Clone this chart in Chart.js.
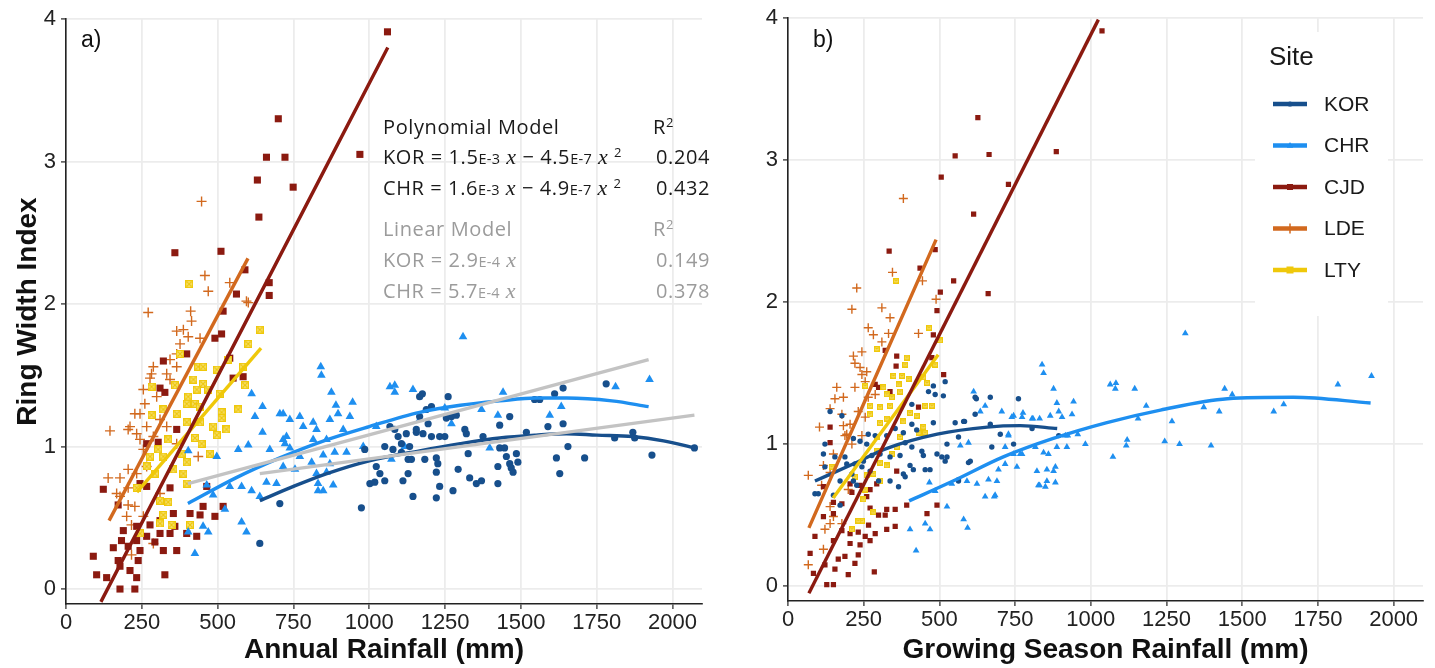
<!DOCTYPE html>
<html>
<head>
<meta charset="utf-8">
<script src="https://cdn.jsdelivr.net/npm/chart.js@4.4.1/dist/chart.umd.min.js"></script>
<style>
  body { margin: 0; background: #fff; width: 1435px; height: 668px; overflow: hidden; position: relative; font-family: "Liberation Sans", Arial, sans-serif; }
  .pane { position: absolute; top: 0; height: 668px; }
  #paneA { left: 0; width: 717px; }
  #paneB { left: 717px; width: 718px; }
  .tag { position: absolute; font-size: 23px; line-height: 26px; color: #111; }
  .note { position: absolute; font-family: "Open Sans", sans-serif; font-size: 20px; line-height: 24px; letter-spacing: 0.6px; white-space: nowrap; color: #1a1a1a; }
  .note.lin { color: #9b9b9b; }
  .note .e { font-size: 14.5px; letter-spacing: 0.3px; }
  .note i { font-family: "Liberation Serif", serif; font-size: 22px; }
  .note sup { font-size: 13px; vertical-align: 7px; line-height: 0; }
</style>
</head>
<body>
<div class="pane" id="paneA"><canvas id="chartA" width="717" height="668"></canvas></div>
<div class="pane" id="paneB"><canvas id="chartB" width="718" height="668"></canvas></div>

<div class="tag" style="left:81px;top:26px">a)</div>
<div class="tag" style="left:813px;top:26px">b)</div>

<div class="note" style="left:383px;top:115px">Polynomial Model</div>
<div class="note" style="left:653px;top:115px">R<sup>2</sup></div>
<div class="note" style="left:383px;top:145px">KOR = 1.5<span class="e">E-3</span> <i>x</i> − 4.5<span class="e">E-7</span> <i>x</i> <sup>2</sup></div>
<div class="note" style="left:656px;top:145px">0.204</div>
<div class="note" style="left:383px;top:176px">CHR = 1.6<span class="e">E-3</span> <i>x</i> − 4.9<span class="e">E-7</span> <i>x</i> <sup>2</sup></div>
<div class="note" style="left:656px;top:176px">0.432</div>
<div class="note lin" style="left:383px;top:217px">Linear Model</div>
<div class="note lin" style="left:653px;top:217px">R<sup>2</sup></div>
<div class="note lin" style="left:383px;top:248px">KOR = 2.9<span class="e">E-4</span> <i>x</i></div>
<div class="note lin" style="left:656px;top:248px">0.149</div>
<div class="note lin" style="left:383px;top:279px">CHR = 5.7<span class="e">E-4</span> <i>x</i></div>
<div class="note lin" style="left:656px;top:279px">0.378</div>

<script>
// sites and colours
const SITES = ["KOR", "CHR", "CJD", "LDE", "LTY"];
const COLS = { KOR: "#174f8c", CHR: "#1e8ff0", CJD: "#8b1a10", LDE: "#d2691e", LTY: "#efc80a" };
const GREY = "#c3c3c3";

// tick labels
const xTicks = [0, 250, 500, 750, 1000, 1250, 1500, 1750, 2000];
const yTicks = [0, 1, 2, 3, 4];

// a) annual rainfall (mm) vs ring width index
const korA = [[705,0.60],[639,0.32],[974,0.57],[985,0.98],[1023,0.86],[1035,0.81],[1002,0.74],[1018,0.75],[1051,0.76],[1051,1.00],[1068,1.14],[1078,0.98],[1095,1.07],[1106,1.02],[1122,1.09],[1106,0.96],[1133,1.00],[1155,1.10],[1166,1.35],[1175,1.37],[1188,1.26],[1205,1.28],[1194,1.16],[1177,1.09],[1205,1.07],[1232,1.07],[1249,1.07],[1260,1.35],[1254,1.20],[1271,1.21],[1287,1.22],[1315,1.12],[1320,1.09],[1326,0.95],[1128,0.91],[1139,0.91],[1183,0.91],[1221,0.92],[1226,0.88],[1128,0.81],[1111,0.76],[1221,0.82],[1232,0.72],[1221,0.64],[1276,0.69],[1144,0.65],[1293,0.84],[1331,0.78],[1353,0.74],[1370,0.76],[1375,1.07],[1424,0.74],[1424,0.86],[1430,0.99],[1446,0.99],[1452,0.93],[1463,0.88],[1468,0.85],[1474,0.82],[1485,0.95],[1490,0.89],[1430,1.15],[1463,1.21],[1518,1.10],[1545,1.33],[1562,1.33],[1589,1.14],[1617,0.92],[1628,0.81],[1639,1.41],[1611,1.37],[1639,1.16],[1655,1.00],[1166,1.21],[1084,1.12],[1155,1.12],[1781,1.44],[1710,0.92],[1809,1.06],[1869,1.10],[1875,1.06],[1932,0.94],[2072,0.99]];
const chrA = [[612,1.37],[648,1.28],[623,1.21],[705,1.23],[648,1.10],[568,0.98],[601,1.01],[672,0.98],[403,0.97],[497,0.93],[464,0.73],[485,0.66],[540,0.72],[579,0.72],[612,0.69],[661,0.75],[694,0.74],[524,0.56],[579,0.47],[595,0.40],[452,0.44],[469,0.40],[403,0.40],[425,0.25],[639,0.65],[716,1.05],[840,1.56],[842,1.50],[875,1.38],[945,1.31],[890,1.29],[936,1.21],[897,1.23],[870,1.19],[914,1.12],[815,1.17],[771,1.21],[738,1.19],[716,1.23],[782,1.14],[826,1.12],[727,1.07],[722,1.02],[815,1.05],[859,1.05],[738,0.99],[771,0.93],[848,0.94],[886,0.96],[925,0.96],[810,0.89],[870,0.88],[716,0.86],[755,0.84],[826,0.81],[859,0.82],[831,0.74],[881,0.73],[848,0.69],[831,0.69],[980,1.00],[1068,1.42],[1084,1.43],[1084,1.38],[1144,1.40],[1309,1.77],[1441,1.38],[1370,1.26],[1424,1.22],[1249,1.27],[1271,1.16],[1073,0.91],[1117,1.00],[1397,0.99],[1595,1.22],[1633,1.28],[1023,1.14],[1166,1.19],[1812,1.42],[1924,1.47]];
const cjdA = [[359,2.36],[511,2.37],[670,2.15],[670,2.06],[562,2.07],[590,2.24],[518,1.95],[513,1.79],[491,1.76],[398,1.65],[321,1.60],[540,1.62],[584,1.49],[551,1.48],[310,1.41],[326,1.38],[365,1.12],[304,1.03],[266,1.02],[123,0.70],[172,0.59],[244,0.74],[266,0.72],[343,0.71],[464,0.72],[452,0.58],[409,0.53],[442,0.52],[491,0.51],[518,0.58],[354,0.53],[310,0.48],[277,0.45],[233,0.44],[189,0.41],[156,0.29],[183,0.34],[205,0.30],[244,0.27],[310,0.39],[321,0.27],[365,0.27],[343,0.39],[398,0.39],[431,0.37],[90,0.23],[101,0.10],[134,0.08],[178,0.00],[227,0.00],[326,0.10],[233,0.08],[178,0.16],[211,0.13],[238,0.20],[172,0.20],[266,0.37],[293,0.33],[359,0.44],[233,0.34],[700,3.30],[661,3.03],[722,3.03],[631,2.87],[749,2.82],[636,2.61],[969,3.05],[1060,3.91]];
const ldeA = [[447,2.72],[458,2.20],[469,2.09],[540,2.15],[601,2.01],[271,1.94],[411,1.95],[414,1.88],[595,2.02],[365,1.81],[387,1.82],[403,1.77],[442,1.76],[376,1.72],[365,1.65],[343,1.61],[365,1.56],[288,1.56],[282,1.51],[332,1.51],[343,1.47],[277,1.48],[255,1.40],[299,1.35],[260,1.30],[227,1.23],[244,1.23],[211,1.14],[266,1.14],[145,1.11],[205,1.12],[244,1.05],[288,1.07],[255,0.98],[332,1.14],[365,1.02],[436,0.93],[205,0.84],[139,0.78],[178,0.78],[233,0.81],[205,0.71],[178,0.65],[205,0.59],[227,0.58],[255,0.51],[200,0.51],[216,0.45],[288,0.32],[310,0.67],[266,0.86],[216,0.24],[167,0.67],[233,1.09],[310,1.19]];
const ltyA = [[406,2.14],[639,1.82],[601,1.72],[376,1.65],[436,1.56],[452,1.56],[535,1.61],[497,1.54],[584,1.56],[590,1.43],[420,1.47],[452,1.44],[469,1.40],[431,1.40],[507,1.37],[282,1.42],[359,1.43],[403,1.35],[398,1.30],[425,1.30],[442,1.28],[513,1.24],[568,1.26],[513,1.20],[282,1.22],[321,1.26],[365,1.23],[398,1.17],[442,1.17],[485,1.14],[529,1.12],[497,1.08],[425,1.06],[447,1.02],[337,1.05],[304,0.98],[277,0.93],[321,0.93],[381,0.95],[474,0.95],[398,0.89],[266,0.86],[293,0.81],[354,0.84],[387,0.81],[398,0.74],[233,0.71],[310,0.62],[337,0.61],[321,0.52],[310,0.46],[348,0.45],[409,0.45],[244,0.39]];

// a) fitted lines
const korFitA = [[639,0.62],[750,0.72],[860,0.81],[1000,0.90],[1166,0.97],[1300,1.02],[1430,1.06],[1550,1.08],[1650,1.09],[1750,1.08],[1868,1.07],[1970,1.04],[2072,0.99]];
const chrFitA = [[402,0.60],[560,0.78],[705,0.92],[850,1.04],[1000,1.14],[1166,1.24],[1300,1.29],[1430,1.32],[1550,1.34],[1651,1.34],[1800,1.32],[1921,1.28]];
const korLinA = [[639,0.81],[2072,1.22]];
const chrLinA = [[402,0.74],[1921,1.61]];
const cjdFitA = [[115,-0.09],[1061,3.80]];
const ldeFitA = [[142,0.48],[600,2.32]];
const ltyFitA = [[234,0.68],[643,1.69]];

// b) growing season rainfall (mm) vs ring width index
const korB = [[519,1.44],[480,1.41],[513,1.34],[486,1.35],[464,1.37],[139,1.23],[178,1.20],[409,1.28],[480,1.15],[409,1.14],[552,1.15],[580,1.16],[618,1.21],[668,1.33],[618,1.33],[425,1.10],[381,1.08],[354,1.11],[326,1.06],[288,1.06],[265,1.07],[238,1.02],[216,1.04],[122,1.00],[117,0.93],[155,0.91],[188,0.91],[194,0.86],[221,0.86],[249,0.88],[277,0.92],[304,0.93],[337,0.91],[370,0.92],[387,1.01],[409,0.98],[442,0.95],[447,0.92],[492,0.93],[508,0.91],[519,0.88],[525,1.00],[453,0.82],[469,0.82],[414,0.82],[403,0.85],[381,0.79],[387,0.77],[365,0.70],[337,0.74],[299,0.74],[271,0.81],[244,0.84],[211,0.79],[172,0.74],[216,0.74],[227,0.71],[122,0.84],[89,0.65],[100,0.65],[150,0.64],[172,0.57],[602,0.88],[563,0.75],[668,1.14],[260,1.00],[563,1.05],[596,0.87],[563,0.74],[761,1.32],[622,1.32],[583,1.16],[701,1.07],[673,0.98],[745,1.00],[806,1.11],[525,0.91],[894,1.06]];
const chrB = [[403,0.40],[423,0.25],[453,0.44],[469,0.40],[580,0.47],[593,0.41],[525,0.56],[467,0.73],[486,0.67],[541,0.72],[591,0.74],[613,1.37],[569,0.99],[596,1.01],[651,1.27],[635,1.23],[624,0.72],[662,0.75],[690,0.74],[684,0.64],[651,0.63],[706,1.23],[728,1.07],[745,1.20],[773,1.19],[806,1.18],[717,0.98],[745,0.93],[773,0.93],[822,0.81],[839,1.56],[844,1.50],[827,0.71],[850,0.70],[855,0.82],[877,0.81],[883,0.73],[756,0.84],[877,1.39],[894,1.23],[943,1.30],[817,0.98],[888,0.98],[860,0.93],[916,1.06],[888,1.29],[938,1.21],[905,1.19],[866,1.20],[957,1.07],[982,1.00],[921,0.98],[924,1.06],[883,0.84],[855,0.74],[831,0.71],[767,0.93],[717,0.86],[695,0.82],[681,0.63],[739,1.19],[776,1.22],[809,1.18],[831,1.18],[844,0.94],[728,1.06],[1064,1.42],[1083,1.43],[1081,1.39],[1145,1.39],[1312,1.78],[1183,1.27],[1156,1.18],[1120,1.03],[1117,0.99],[1073,0.91],[1244,1.02],[1268,1.16],[1293,1.00],[1373,1.26],[1397,0.99],[1424,1.23],[1442,1.39],[1467,1.35],[1604,1.23],[1637,1.28],[1816,1.42],[1927,1.48]];
const cjdB = [[627,3.30],[552,3.03],[664,3.04],[506,2.88],[728,2.83],[613,2.62],[886,3.06],[334,2.36],[486,2.37],[436,2.24],[547,2.15],[503,2.07],[661,2.06],[492,1.94],[1037,3.91],[480,1.77],[359,1.62],[357,1.55],[321,1.66],[514,1.49],[475,1.61],[431,1.26],[139,1.12],[299,1.40],[392,0.57],[492,0.57],[459,0.51],[354,0.54],[326,0.54],[321,0.50],[271,0.55],[299,0.50],[354,0.42],[326,0.40],[266,0.43],[288,0.37],[255,0.35],[271,0.32],[232,0.38],[238,0.29],[205,0.37],[232,0.22],[205,0.30],[188,0.21],[221,0.16],[166,0.19],[155,0.12],[122,0.15],[128,0.01],[150,0.01],[199,0.08],[285,0.10],[73,0.23],[84,0.09],[89,0.35],[117,0.49],[150,0.32],[178,0.39],[150,0.51],[178,0.58],[117,0.70],[238,0.71],[271,0.68],[293,0.72],[260,0.63],[205,0.72],[211,0.66],[150,0.59],[139,1.01],[359,0.81],[288,1.42],[337,1.37]];
const ldeB = [[381,2.73],[345,2.21],[227,2.10],[444,2.15],[489,2.02],[211,1.95],[310,1.96],[337,1.89],[265,1.82],[282,1.77],[332,1.78],[431,1.78],[310,1.72],[244,1.65],[216,1.62],[221,1.57],[238,1.54],[260,1.51],[244,1.49],[161,1.40],[183,1.33],[221,1.40],[255,1.44],[288,1.35],[155,1.32],[139,1.25],[178,1.21],[232,1.23],[255,1.19],[183,1.13],[205,1.14],[104,1.12],[188,1.06],[211,1.00],[244,1.06],[150,0.93],[117,0.85],[139,0.80],[67,0.78],[111,0.71],[139,0.56],[150,0.49],[139,0.44],[178,0.44],[122,0.40],[199,0.68],[117,0.26],[67,0.15],[194,1.07],[265,1.33]];
const ltyB = [[357,2.15],[466,1.82],[502,1.73],[293,1.67],[392,1.61],[387,1.56],[486,1.56],[348,1.48],[376,1.48],[398,1.46],[365,1.42],[447,1.47],[459,1.43],[315,1.40],[255,1.41],[326,1.35],[343,1.33],[271,1.27],[304,1.26],[337,1.27],[453,1.27],[475,1.27],[403,1.22],[425,1.20],[271,1.21],[304,1.15],[326,1.18],[447,1.12],[453,1.08],[431,1.08],[370,1.05],[293,1.05],[359,0.98],[343,0.93],[326,0.85],[304,0.87],[282,0.79],[304,0.74],[255,0.68],[249,0.61],[282,0.52],[244,0.46],[232,0.46],[211,0.40],[260,0.78],[293,0.95],[381,1.16],[221,0.77],[144,0.84],[370,1.37]];

// b) fitted lines
const korFitB = [[89,0.74],[215,0.86],[327,0.97],[493,1.07],[658,1.12],[767,1.13],[889,1.11]];
const chrFitB = [[400,0.60],[545,0.74],[711,0.91],[876,1.04],[1050,1.15],[1230,1.24],[1451,1.32],[1669,1.33],[1924,1.29]];
const cjdFitB = [[69,-0.05],[1025,3.99]];
const ldeFitB = [[69,0.41],[489,2.44]];
const ltyFitB = [[149,0.62],[496,1.63]];

const xy = arr => arr.map(([x, y]) => ({ x, y }));

// yellow square with a cross in it
function boxCross(s) {
  const c = document.createElement("canvas");
  c.width = c.height = s;
  const g = c.getContext("2d");
  g.fillStyle = "#f8e68c";
  g.fillRect(0, 0, s, s);
  g.strokeStyle = COLS.LTY;
  g.lineWidth = 1.3;
  g.strokeRect(0.65, 0.65, s - 1.3, s - 1.3);
  g.beginPath();
  g.moveTo(1.5, 1.5); g.lineTo(s - 1.5, s - 1.5);
  g.moveTo(s - 1.5, 1.5); g.lineTo(1.5, s - 1.5);
  g.stroke();
  return c;
}

function pointSet(site, data, big) {
  const c = COLS[site];
  const d = { label: site, data: xy(data), backgroundColor: c, borderColor: c, borderWidth: 0, order: 2 };
  if (site === "KOR") return { ...d, pointStyle: "circle", pointRadius: big ? 3.6 : 2.7, order: 1 };
  if (site === "CHR") return { ...d, pointStyle: "triangle", pointRadius: big ? 5 : 3.9, order: 2 };
  if (site === "CJD") return { ...d, pointStyle: "rect", pointRadius: big ? 5 : 3.7, order: 4 };
  if (site === "LDE") return { ...d, pointStyle: "cross", pointRadius: big ? 5 : 4.5, borderWidth: 1.4, order: 5 };
  return { ...d, pointStyle: boxCross(big ? 8 : 6), order: 3 };
}

function lineSet(data, color) {
  return {
    data: xy(data), showLine: true, borderColor: color, borderWidth: 3.4,
    pointRadius: 0, tension: 0.4, cubicInterpolationMode: "monotone", fill: false, order: 0
  };
}

const tickFont = { family: "Liberation Sans", size: 22 };
const titleFont = { family: "Liberation Sans", size: 28, weight: "bold" };

function makeScales(yWidth, xHeight, xTitle, yTitle) {
  return {
    x: {
      type: "linear", min: 0, max: 2097,
      afterBuildTicks: s => { s.ticks = xTicks.map(v => ({ value: v })); },
      afterFit: s => { s.height = xHeight; },
      grid: { color: "#ececec", lineWidth: 1.8, tickColor: "#333", tickLength: 5, tickWidth: 1.3 },
      border: { color: "#222", width: 1.6 },
      ticks: { color: "#222", font: tickFont, padding: 1, maxRotation: 0, autoSkip: false, callback: v => String(v) },
      title: { display: true, text: xTitle, color: "#111", font: titleFont, padding: { top: 0, bottom: 1 } }
    },
    y: {
      type: "linear", min: -0.105, max: 4,
      afterBuildTicks: s => { s.ticks = yTicks.map(v => ({ value: v })); },
      afterFit: s => { s.width = yWidth; },
      grid: { color: "#ececec", lineWidth: 1.8, tickColor: "#333", tickLength: 5, tickWidth: 1.3 },
      border: { color: "#222", width: 1.6 },
      ticks: { color: "#222", font: tickFont, padding: 5, callback: v => String(v) },
      title: { display: !!yTitle, text: yTitle, color: "#111", font: titleFont, padding: { top: 11, bottom: 0 } }
    }
  };
}

// legend for panel b, drawn inside the plot
function drawMark(g, site, x, y) {
  g.fillStyle = COLS[site];
  g.strokeStyle = COLS[site];
  g.beginPath();
  if (site === "KOR") { g.arc(x, y, 2.6, 0, Math.PI * 2); g.fill(); }
  else if (site === "CHR") { g.moveTo(x, y - 3.5); g.lineTo(x + 3.2, y + 2.2); g.lineTo(x - 3.2, y + 2.2); g.closePath(); g.fill(); }
  else if (site === "CJD") { g.fillRect(x - 3, y - 3, 6, 6); }
  else if (site === "LDE") { g.lineWidth = 1.5; g.moveTo(x, y - 5); g.lineTo(x, y + 5); g.stroke(); }
  else { g.fillRect(x - 3.5, y - 3.5, 7, 7); }
}

const siteLegend = {
  id: "siteLegend",
  afterDraw(chart) {
    const g = chart.ctx;
    g.save();
    g.fillStyle = "#fff";
    g.fillRect(538, 32, 133, 284);
    g.fillStyle = "#1a1a1a";
    g.textBaseline = "middle";
    g.font = '26px "Liberation Sans"';
    g.fillText("Site", 552, 58);
    g.font = '21px "Liberation Sans"';
    SITES.forEach((s, i) => {
      const y = 104 + i * 41.5;
      g.strokeStyle = COLS[s];
      g.lineWidth = 4.5;
      g.beginPath(); g.moveTo(556, y); g.lineTo(590, y); g.stroke();
      drawMark(g, s, 573, y);
      g.fillStyle = "#1a1a1a";
      g.fillText(s, 607, y + 1);
    });
    g.restore();
  }
};

const common = {
  responsive: false,
  animation: false,
  plugins: { legend: { display: false }, tooltip: { enabled: false } }
};

new Chart(document.getElementById("chartA"), {
  type: "scatter",
  data: {
    datasets: [
      lineSet(cjdFitA, COLS.CJD), lineSet(ldeFitA, COLS.LDE), lineSet(ltyFitA, COLS.LTY),
      lineSet(chrLinA, GREY), lineSet(korLinA, GREY),
      lineSet(chrFitA, COLS.CHR), lineSet(korFitA, COLS.KOR),
      pointSet("KOR", korA, true), pointSet("CHR", chrA, true), pointSet("CJD", cjdA, true),
      pointSet("LDE", ldeA, true), pointSet("LTY", ltyA, true)
    ]
  },
  options: {
    ...common,
    layout: { padding: { top: 19, right: 15, left: 0, bottom: 0 } },
    scales: makeScales(66, 64, "Annual Rainfall (mm)", "Ring Width Index")
  }
});

new Chart(document.getElementById("chartB"), {
  type: "scatter",
  data: {
    datasets: [
      lineSet(cjdFitB, COLS.CJD), lineSet(ldeFitB, COLS.LDE), lineSet(ltyFitB, COLS.LTY),
      lineSet(chrFitB, COLS.CHR), lineSet(korFitB, COLS.KOR),
      pointSet("KOR", korB, false), pointSet("CHR", chrB, false), pointSet("CJD", cjdB, false),
      pointSet("LDE", ldeB, false), pointSet("LTY", ltyB, false)
    ]
  },
  options: {
    ...common,
    layout: { padding: { top: 15, right: 12, left: 0, bottom: 0 } },
    scales: makeScales(71, 67, "Growing Season Rainfall (mm)", "")
  },
  plugins: [siteLegend]
});
</script>
</body>
</html>
